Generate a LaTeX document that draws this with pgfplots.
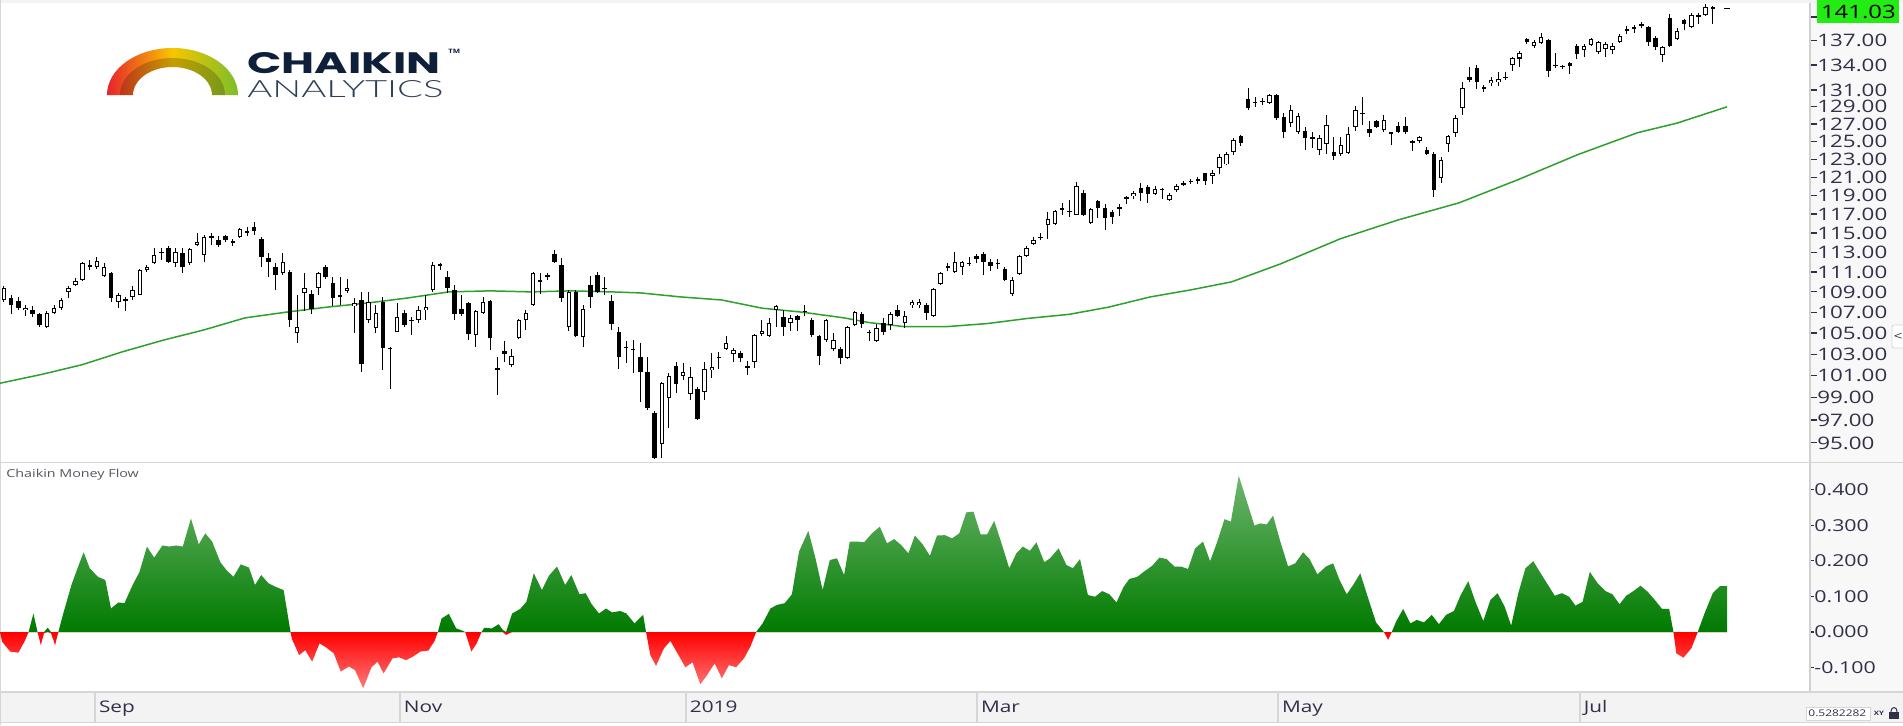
\documentclass[border=0pt]{standalone}
\usepackage{fontspec}
\setmainfont{Open Sans}[FakeStretch=1.3]
\newfontfamily\logobold{Poppins}
\IfFontExistsTF{Lato Light}{\newfontfamily\logothin{Lato Light}}{\newfontfamily\logothin{Lato}}
\usepackage{pgfplots}
\usepackage{pgfplotstable}
\pgfplotsset{compat=1.18}

\definecolor{labelc}{HTML}{30304A}
\definecolor{axisgrey}{HTML}{D0D0D0}
\definecolor{stripgrey}{HTML}{F3F3F3}
\definecolor{sidegrey}{HTML}{F8F8F8}
\definecolor{sepgrey}{HTML}{D6D6D6}
\definecolor{magreen}{RGB}{45,160,45}
\definecolor{cmfgreen}{RGB}{0,122,0}
\definecolor{cmflight}{RGB}{110,182,110}
\definecolor{cmfred}{RGB}{255,0,0}
\definecolor{cmfpink}{RGB}{255,120,120}
\definecolor{boxgreen}{RGB}{34,236,20}
\definecolor{logonavy}{HTML}{0E1F3A}
\definecolor{logonavy2}{HTML}{2E3F56}
\definecolor{logored}{HTML}{E8232B}
\definecolor{logoyellow}{HTML}{F7C600}
\definecolor{logogreen}{HTML}{7CBE2A}
\definecolor{cmflabel}{HTML}{55555F}

% daily candles: index, open, high, low, close
\pgfplotstableread{
i o h l c
0 108.2 109.6 108.0 109.4
1 108.4 108.7 106.8 107.7
2 108.1 108.5 107.2 107.4
3 107.2 107.7 106.6 107.4
4 107.2 107.6 106.5 106.8
5 106.8 106.9 105.6 105.8
6 105.6 107.1 105.5 106.9
7 106.9 107.7 106.8 107.4
8 107.4 108.4 107.2 108.2
9 109.0 109.6 108.4 109.4
10 109.7 110.4 109.6 110.1
11 110.2 112.0 110.1 111.9
12 111.5 112.2 111.2 111.7
13 111.5 112.5 111.3 112.1
14 110.6 111.9 110.5 111.5
15 110.9 111.0 108.0 108.4
16 108.0 108.9 107.4 108.7
17 108.2 108.5 107.1 108.25
18 108.5 109.6 108.2 109.2
19 108.7 111.3 108.7 111.2
20 111.2 111.7 111.0 111.5
21 111.9 113.4 111.8 112.7
22 113.0 113.4 112.2 113.05
23 113.4 113.6 111.9 112.0
24 111.9 113.4 111.5 113.0
25 112.9 113.4 110.9 111.5
26 111.9 113.4 111.7 113.3
27 113.8 115.0 113.6 114.1
28 112.7 114.8 112.0 114.6
29 114.6 115.0 113.8 114.65
30 114.3 114.7 113.5 113.8
31 114.7 114.8 114.1 114.3
32 114.0 114.4 113.6 114.2
33 114.6 115.5 114.5 115.4
34 115.1 115.6 114.7 115.15
35 115.6 116.2 114.8 115.2
36 114.4 114.6 111.5 112.5
37 112.4 112.9 110.5 112.0
38 111.5 111.9 109.2 110.7
39 110.9 112.9 110.7 112.0
40 111.0 111.2 105.6 106.2
41 105.0 108.7 104.0 105.6
42 108.9 110.9 107.1 109.4
43 108.8 109.2 106.8 107.3
44 109.4 111.0 108.7 110.9
45 111.5 111.7 110.3 110.5
46 109.9 110.5 107.6 108.4
47 108.7 110.5 107.7 108.5
48 109.1 110.3 108.9 109.4
49 107.6 108.4 105.0 107.9
50 108.2 109.0 101.3 102.1
51 106.2 109.0 106.0 108.0
52 105.5 107.7 105.0 106.9
53 108.0 108.5 101.5 103.6
54 103.5 103.7 99.8 103.55
55 105.1 107.9 105.1 106.5
56 106.9 107.2 105.6 105.8
57 106.2 106.5 104.8 106.25
58 106.2 107.6 106.0 107.2
59 107.2 108.7 106.2 107.5
60 109.2 112.0 109.0 111.7
61 111.7 111.9 111.2 111.75
62 110.5 111.1 108.9 109.4
63 109.2 109.7 106.2 106.8
64 107.3 108.7 106.6 106.8
65 107.9 108.0 104.3 104.9
66 104.8 107.2 103.7 107.1
67 106.9 108.5 106.8 108.0
68 108.1 108.2 103.4 104.5
69 101.6 102.7 99.2 101.65
70 103.3 104.2 102.3 103.0
71 102.0 103.5 101.8 102.8
72 104.5 106.3 104.4 106.2
73 106.2 107.2 105.3 106.9
74 107.7 111.0 107.6 110.9
75 110.1 110.9 108.8 110.15
76 110.5 110.9 110.2 110.7
77 112.8 113.2 111.9 112.0
78 111.7 112.4 108.0 108.4
79 105.6 109.2 105.2 109.0
80 109.0 109.2 104.6 104.7
81 104.6 107.7 103.7 107.3
82 109.7 110.6 107.4 108.5
83 110.7 111.0 108.9 109.0
84 109.4 110.5 108.7 109.35
85 108.1 108.7 105.3 105.9
86 105.1 105.6 101.6 102.7
87 103.6 104.2 102.2 103.65
88 103.5 104.3 101.2 103.4
89 102.7 104.0 98.6 101.3
90 101.3 102.7 97.9 98.1
91 97.6 97.8 93.6 93.7
92 94.9 100.4 93.7 100.3
93 99.0 101.2 96.3 101.0
94 101.9 102.3 99.4 100.2
95 101.0 102.2 100.6 101.3
96 99.3 101.8 98.8 100.9
97 99.8 100.0 97.0 97.1
98 99.5 102.3 98.8 101.6
99 101.5 103.1 100.8 101.8
100 102.7 103.2 101.6 102.75
101 103.5 104.7 103.4 104.0
102 103.0 103.6 102.3 103.4
103 103.1 103.3 102.3 102.6
104 101.8 102.4 101.1 101.85
105 102.3 104.9 101.7 104.8
106 104.9 106.2 104.7 105.2
107 104.7 106.4 104.6 106.0
108 107.2 107.7 105.6 107.6
109 106.5 107.2 104.7 105.6
110 106.0 106.7 105.2 106.4
111 106.6 106.7 105.2 106.2
112 107.1 107.7 106.6 107.05
113 106.2 106.4 104.6 104.8
114 104.7 104.8 102.0 102.8
115 104.3 106.3 104.1 106.2
116 103.5 105.0 103.3 104.3
117 103.5 103.7 102.1 102.6
118 102.6 105.7 102.5 105.6
119 105.8 107.1 105.7 107.0
120 106.8 107.0 105.5 105.9
121 105.1 105.3 104.2 105.05
122 104.2 105.9 104.1 105.5
123 106.0 106.4 104.8 105.1
124 105.8 107.0 105.3 106.8
125 107.2 107.7 106.5 106.6
126 106.0 107.1 105.5 106.6
127 107.7 108.2 107.4 108.0
128 107.7 108.3 107.4 108.0
129 107.7 107.9 106.2 106.9
130 106.6 109.4 106.5 109.3
131 109.8 111.0 109.7 110.9
132 111.5 111.9 111.1 111.55
133 111.0 113.0 110.9 112.0
134 111.5 112.1 110.7 112.0
135 111.9 112.5 111.6 111.85
136 112.6 112.8 111.9 112.3
137 112.8 113.0 110.7 112.0
138 112.0 112.3 111.1 111.6
139 111.9 112.3 111.3 111.85
140 111.3 111.5 110.1 110.2
141 108.8 110.5 108.6 110.2
142 110.8 112.7 110.7 112.6
143 112.6 113.6 112.5 113.4
144 113.9 114.6 113.8 114.3
145 114.6 115.0 114.3 114.55
146 115.8 117.2 114.4 116.5
147 115.9 117.4 115.8 117.3
148 117.6 118.2 116.9 117.55
149 117.3 118.5 116.7 117.35
150 116.9 120.5 116.9 120.0
151 119.3 119.6 116.8 116.9
152 116.1 117.7 115.9 117.5
153 118.4 118.5 116.6 117.7
154 117.6 118.1 115.3 116.6
155 117.2 117.4 116.0 116.7
156 117.6 118.1 116.8 117.8
157 118.7 118.9 118.1 118.8
158 118.9 119.5 118.6 119.3
159 119.8 120.4 118.4 119.3
160 119.9 120.1 118.2 119.2
161 119.2 120.0 119.1 119.7
162 119.7 119.8 118.6 119.65
163 118.5 119.3 118.4 119.0
164 119.6 120.2 119.4 120.0
165 120.2 120.6 120.0 120.3
166 120.5 120.8 120.3 120.6
167 120.7 121.0 120.3 120.75
168 121.5 121.5 120.1 120.6
169 121.1 121.8 120.3 121.5
170 122.0 123.6 121.3 123.2
171 122.4 123.8 122.3 123.6
172 123.8 125.4 123.5 125.2
173 125.6 125.7 124.5 124.8
174 129.9 131.2 128.6 128.9
175 129.5 130.2 129.0 129.6
176 129.7 130.0 129.2 129.6
177 129.5 130.5 129.3 130.4
178 130.4 130.5 127.5 127.7
179 127.8 128.3 125.4 126.1
180 127.1 129.2 126.6 128.6
181 126.1 128.3 125.9 127.9
182 126.2 126.6 124.0 125.4
183 125.4 126.1 124.3 125.45
184 124.0 125.7 123.5 125.4
185 124.7 128.0 123.6 126.9
186 123.8 125.5 122.9 123.3
187 123.6 125.5 123.4 124.6
188 123.7 126.6 123.6 125.8
189 126.6 129.1 126.2 128.6
190 128.3 130.2 126.9 128.25
191 126.4 127.4 125.5 126.0
192 127.4 127.5 126.5 126.6
193 126.3 128.0 126.1 127.5
194 126.0 126.1 124.6 125.95
195 126.8 127.2 126.0 126.1
196 126.8 127.8 125.9 126.1
197 125.0 125.2 123.9 124.95
198 125.0 125.6 124.8 125.5
199 124.0 124.4 123.5 123.6
200 123.6 123.8 118.8 119.6
201 120.9 123.2 120.4 122.9
202 124.7 125.7 123.8 125.6
203 126.0 128.0 125.5 127.7
204 128.9 132.0 128.1 131.2
205 132.5 133.8 132.0 132.2
206 133.6 134.0 131.1 132.0
207 131.3 131.6 130.7 131.25
208 131.8 132.6 131.5 132.2
209 131.9 133.2 131.5 132.3
210 132.5 133.2 132.2 132.6
211 134.0 135.0 133.3 134.9
212 134.8 135.7 133.8 135.5
213 137.2 137.4 136.6 136.8
214 136.3 137.1 136.1 136.8
215 136.7 138.0 136.6 137.5
216 137.1 137.2 132.6 133.3
217 134.0 135.5 133.6 133.95
218 133.8 134.0 133.5 133.85
219 134.3 134.4 132.9 133.9
220 136.3 136.6 134.7 135.4
221 135.9 136.6 135.0 136.3
222 136.5 137.4 136.3 137.2
223 135.6 137.0 135.4 136.9
224 136.0 136.8 135.0 136.6
225 135.8 136.7 135.3 136.3
226 136.8 137.9 136.7 137.6
227 138.3 138.9 137.9 138.4
228 138.6 139.0 137.9 138.7
229 139.1 139.3 138.6 138.8
230 138.7 138.9 136.3 136.8
231 137.4 137.6 135.9 136.2
232 135.2 136.4 134.4 136.2
233 139.9 140.4 136.2 136.4
234 137.2 138.6 137.1 138.2
235 139.6 139.8 138.3 139.1
236 138.7 140.5 138.6 140.3
237 140.1 140.5 139.1 140.2
238 140.2 141.6 140.1 141.3
239 141.3 141.4 139.1 141.03
}\candles

% moving average
\pgfplotstableread{
i v
-0.56 100.3
5.2 101.1
10.9 102.0
16.5 103.2
22.2 104.3
28.0 105.3
33.7 106.45
39.4 107.0
45.2 107.5
50.8 107.9
56.5 108.4
62.2 109.0
68.0 109.1
73.7 109.0
79.3 109.1
85.0 109.0
89.0 108.9
94.7 108.5
100.4 108.2
106.0 107.4
111.7 107.0
117.5 106.45
121.0 106.0
126.0 105.6
131.7 105.6
137.5 105.9
143.2 106.4
149.0 106.8
154.5 107.5
160.3 108.5
166.0 109.2
171.7 110.0
178.5 111.8
186.9 114.4
195.1 116.4
203.5 118.2
211.7 120.7
220.1 123.5
228.5 126.0
234.0 127.1
241.0 129.0
}\madata

% Chaikin money flow
\pgfplotstableread{
i v
-0.56 0.000
-0.27 -0.027
0.87 -0.055
2.01 -0.058
2.86 -0.027
3.44 0.000
4.12 0.052
4.69 0.000
5.15 -0.037
5.60 -0.003
6.12 0.012
6.57 -0.003
7.15 -0.037
7.60 0.000
8.29 0.052
9.43 0.132
10.28 0.179
11.14 0.224
11.99 0.179
13.14 0.155
14.17 0.146
14.97 0.066
15.99 0.083
16.85 0.081
17.99 0.132
18.96 0.169
19.99 0.240
21.00 0.209
22.16 0.243
23.13 0.240
24.10 0.243
25.01 0.240
26.15 0.319
27.24 0.246
28.15 0.277
29.12 0.254
30.26 0.196
31.12 0.174
32.09 0.155
33.12 0.190
34.26 0.181
35.11 0.132
35.97 0.160
36.99 0.137
37.97 0.127
39.11 0.118
40.08 0.000
40.25 -0.018
41.28 -0.065
42.13 -0.051
43.10 -0.083
44.13 -0.032
45.10 -0.044
46.13 -0.060
47.10 -0.111
48.24 -0.097
49.10 -0.107
50.24 -0.158
51.38 -0.100
52.24 -0.083
53.09 -0.116
54.35 -0.074
55.26 -0.071
56.23 -0.079
57.20 -0.069
58.23 -0.055
59.37 -0.052
60.23 -0.025
60.68 0.000
61.20 0.038
62.22 0.051
63.25 0.010
64.22 0.003
64.51 0.000
65.37 -0.055
66.11 -0.032
66.79 0.000
67.19 0.012
68.22 0.010
69.19 0.022
69.76 0.006
70.22 -0.008
71.07 0.052
72.21 0.065
73.07 0.085
74.10 0.165
75.24 0.118
76.21 0.158
77.35 0.184
78.49 0.132
79.35 0.160
80.49 0.106
81.35 0.109
82.20 0.078
83.23 0.052
84.20 0.066
85.06 0.055
86.20 0.059
87.05 0.052
88.20 0.024
88.95 0.040
89.40 0.048
89.80 0.000
90.40 -0.065
91.20 -0.095
92.30 -0.046
93.20 -0.025
94.20 -0.060
95.30 -0.099
96.30 -0.085
97.40 -0.147
98.40 -0.119
99.40 -0.088
100.40 -0.130
101.40 -0.093
102.40 -0.099
103.50 -0.074
104.40 -0.041
105.20 0.000
106.10 0.024
107.20 0.066
108.10 0.076
109.20 0.081
110.20 0.106
111.20 0.226
112.50 0.284
113.50 0.207
114.50 0.118
115.50 0.202
116.50 0.207
117.50 0.160
118.30 0.254
119.40 0.254
120.30 0.252
121.40 0.277
122.50 0.296
123.50 0.249
124.50 0.261
125.50 0.244
126.50 0.221
127.40 0.271
128.50 0.246
129.50 0.214
130.50 0.271
131.60 0.272
132.60 0.263
133.60 0.277
134.60 0.336
135.60 0.338
136.60 0.274
137.50 0.274
138.50 0.312
139.60 0.244
140.60 0.179
141.60 0.221
142.50 0.240
143.50 0.228
144.40 0.252
145.50 0.196
146.30 0.207
147.50 0.235
148.60 0.188
149.50 0.179
150.50 0.205
151.60 0.104
152.60 0.099
153.60 0.115
154.60 0.106
155.60 0.083
156.60 0.127
157.40 0.149
158.50 0.155
159.40 0.169
160.60 0.186
161.60 0.209
162.60 0.205
163.70 0.184
164.60 0.184
165.60 0.177
166.60 0.235
167.70 0.254
168.70 0.199
169.70 0.254
170.70 0.317
171.60 0.310
172.70 0.439
173.70 0.375
174.90 0.299
175.70 0.305
176.60 0.302
177.50 0.327
178.50 0.255
179.60 0.184
180.60 0.193
181.70 0.224
182.60 0.205
183.70 0.162
184.90 0.184
185.90 0.193
186.80 0.146
187.80 0.106
188.70 0.132
189.70 0.165
190.80 0.095
191.90 0.027
193.00 0.000
193.60 -0.022
194.10 0.000
194.70 0.029
195.70 0.065
196.70 0.024
197.60 0.034
198.60 0.027
199.70 0.048
200.70 0.022
201.70 0.048
202.80 0.059
203.70 0.102
204.80 0.143
205.80 0.085
206.90 0.031
207.90 0.090
208.90 0.109
209.90 0.071
210.80 0.018
211.80 0.109
212.80 0.179
213.90 0.199
214.80 0.169
215.80 0.137
216.90 0.102
217.90 0.109
218.90 0.099
219.80 0.074
220.80 0.085
221.80 0.169
222.90 0.137
224.00 0.115
224.96 0.106
225.96 0.078
226.90 0.102
227.90 0.115
228.90 0.130
229.90 0.113
230.90 0.090
231.90 0.065
232.90 0.065
233.50 0.000
233.90 -0.060
234.90 -0.072
236.00 -0.046
236.90 0.000
237.90 0.055
239.00 0.109
240.00 0.129
241.00 0.129
}\cmfdata

\pgfplotsset{
  panel/.style={
    scale only axis, width=905pt, xmin=-0.559, xmax=252.6,
    axis x line=none, axis y line*=right,
    axis line style={draw=axisgrey, line width=0.9pt},
    tick align=outside, minor y tick num=0,
    ytick style={draw=labelc, line width=0.6pt},
    yticklabel style={anchor=west, inner sep=0pt, text=labelc},
  },
  candle/.style={only marks, mark=*, mark size=0pt, mark options={draw=none, fill=none},
    forget plot,
    error bars/y dir=both, error bars/y explicit, error bars/error mark=none},
}
\tikzset{datelbl/.style={anchor=base west, inner sep=0pt, xshift=1.8pt, text=labelc,
    font=\fontsize{8}{9}\selectfont}}

\begin{document}
\begin{tikzpicture}
\path[use as bounding box, fill=white] (0,0) rectangle (951.5pt,362.5pt);
% chrome: top band, label column, strip, separators
\fill[sidegrey] (905pt,16.5pt) rectangle (951.5pt,361pt);
\fill[stripgrey] (0,361pt) rectangle (951.5pt,362.5pt);
\fill[stripgrey] (0,1.5pt) rectangle (951.5pt,16.5pt);
\draw[sepgrey, line width=0.5pt] (0.25pt,0) -- (0.25pt,362.5pt);
\draw[sepgrey, line width=0.75pt] (0,131.25pt) -- (951.5pt,131.25pt);
\draw[sepgrey, line width=0.75pt] (0,16.5pt) -- (951.5pt,16.5pt);
\draw[sepgrey, line width=0.75pt] (0,1.2pt) -- (951.5pt,1.2pt);

% price panel
\begin{axis}[panel, at={(0pt,131.5pt)}, anchor=south west, height=229.5pt,
  ymode=log, ymin=93.37, ymax=141.8,
  ytick={95,97,99,101,103,105,107,109,111,113,115,117,119,121,123,125,127,129,131,134,137,140},
  yticklabels={95.00,97.00,99.00,101.00,103.00,105.00,107.00,109.00,111.00,113.00,115.00,117.00,119.00,121.00,123.00,125.00,127.00,129.00,131.00,134.00,137.00,},
  major tick length=3.5pt,
  yticklabel style={font=\fontsize{8.6}{9}\selectfont}]
\addplot[magreen, line width=0.75pt] table[x=i, y=v] {\madata};
% wicks
\addplot[candle, black, error bars/error bar style={black, line width=0.5pt}]
  table[x=i, y expr={(\thisrow{h}+\thisrow{l})/2}, y error expr={(\thisrow{h}-\thisrow{l})/2}] {\candles};
% bodies, at least one pixel tall
\addplot[candle, black, error bars/error bar style={black, line width=2.25pt}]
  table[x=i, y expr={(\thisrow{o}+\thisrow{c})/2},
        y error expr={max(abs(\thisrow{o}-\thisrow{c})/2, 0.00045*(\thisrow{o}+\thisrow{c})/2)}] {\candles};
% hollow interiors of rising candles
\addplot[candle, white, restrict expr to domain={\thisrow{c}-\thisrow{o}}{0:1000},
  error bars/error bar style={white, line width=1.25pt}]
  table[x=i, y expr={(\thisrow{o}+\thisrow{c})/2},
        y error expr={max(abs(\thisrow{o}-\thisrow{c})/2-0.00091*(\thisrow{o}+\thisrow{c})/2, 0)}] {\candles};
\addplot[black, line width=0.5pt, forget plot] coordinates {(240.6,141.03) (241.4,141.03)};
\end{axis}

% money flow panel
\begin{axis}[panel, at={(0pt,17pt)}, anchor=south west, height=114pt,
  ymin=-0.1657, ymax=0.4747,
  ytick={-0.1,0,0.1,0.2,0.3,0.4},
  yticklabels={-0.100,0.000,0.100,0.200,0.300,0.400},
  major tick length=2pt,
  yticklabel style={font=\fontsize{8.2}{9}\selectfont}]
\addplot[draw=none, top color=cmflight, bottom color=cmfgreen]
  table[x=i, y expr={max(\thisrow{v},0)}] {\cmfdata} \closedcycle;
\addplot[draw=none, top color=cmfred, bottom color=cmfpink]
  table[x=i, y expr={min(\thisrow{v},0)}] {\cmfdata} \closedcycle;
\end{axis}

% date strip
\begin{axis}[scale only axis, width=905pt, height=15pt, at={(0pt,1.5pt)}, anchor=south west,
  xmin=-0.559, xmax=252.6, ymin=0, ymax=1,
  axis line style={draw=none}, tick style={draw=none},
  xtick={12.73,55.38,95.38,136.1,178.2,220.4}, xticklabels={}, ytick=\empty,
  xmajorgrids, grid style={draw=sepgrey, line width=0.75pt}]
\node[datelbl] at (axis cs:12.73,0.33) {Sep};
\node[datelbl] at (axis cs:55.38,0.33) {Nov};
\node[datelbl] at (axis cs:95.38,0.33) {2019};
\node[datelbl] at (axis cs:136.1,0.33) {Mar};
\node[datelbl] at (axis cs:178.2,0.33) {May};
\node[datelbl] at (axis cs:220.4,0.33) {Jul};
\end{axis}

% last price box
\node[fill=boxgreen, anchor=west, minimum width=41pt, minimum height=11.5pt, inner sep=0pt,
      font=\fontsize{9.2}{10}\selectfont] at (908.5pt,356.75pt) {141.03};
% side tab
\draw[sepgrey, fill=white, rounded corners=1pt] (946pt,188.5pt) rectangle (953pt,200pt);
\node[inner sep=0pt, text=labelc, font=\fontsize{6}{6}\selectfont] at (949pt,194.3pt) {<};
% cursor readout
\draw[sepgrey, fill=white] (903pt,2.5pt) rectangle (935pt,9pt);
\node[anchor=west, inner sep=0pt, text=labelc, font=\fontsize{4.6}{5}\selectfont] at (904pt,5.75pt) {0.5282282};
\node[inner sep=0pt, text=labelc, font=\fontsize{3}{3}\selectfont\bfseries] at (939.5pt,5.9pt) {XY};
\fill[labelc] (944.5pt,3pt) rectangle (949.5pt,6.3pt);
\draw[labelc, line width=0.5pt] (945.6pt,6.3pt) -- (945.6pt,7.3pt) arc[start angle=180, end angle=0, radius=1.4pt] -- (948.4pt,6.3pt);

% panel title
\node[anchor=base west, inner sep=0pt, text=cmflabel, font=\fontsize{5.5}{6}\selectfont] at (3pt,124pt) {Chaikin Money Flow};

% logo
\path[left color=logored, right color=logogreen, middle color=logoyellow]
  (53.5pt,315pt) arc[start angle=180, end angle=0, x radius=32.75pt, y radius=23.5pt]
  -- (106pt,315pt) arc[start angle=0, end angle=180, x radius=19.75pt, y radius=14pt] -- cycle;
\fill[black, opacity=0.2]
  (60pt,315pt) arc[start angle=180, end angle=0, x radius=26.25pt, y radius=18.5pt]
  -- (106pt,315pt) arc[start angle=0, end angle=180, x radius=19.75pt, y radius=14pt] -- cycle;
\node[anchor=base west, inner sep=0pt, text=logonavy] at (123.5pt,326pt)
  {\resizebox{96.5pt}{10.5pt}{\logobold\bfseries CHAIKIN}};
\node[anchor=base west, inner sep=0pt, text=logonavy2] at (123.5pt,314pt)
  {\resizebox{98pt}{8.5pt}{\logothin ANALYTICS}};
\node[anchor=north west, inner sep=0pt, text=logonavy, font=\fontsize{3}{3}\selectfont\bfseries] at (224pt,338pt) {TM};
\end{tikzpicture}
\end{document}
